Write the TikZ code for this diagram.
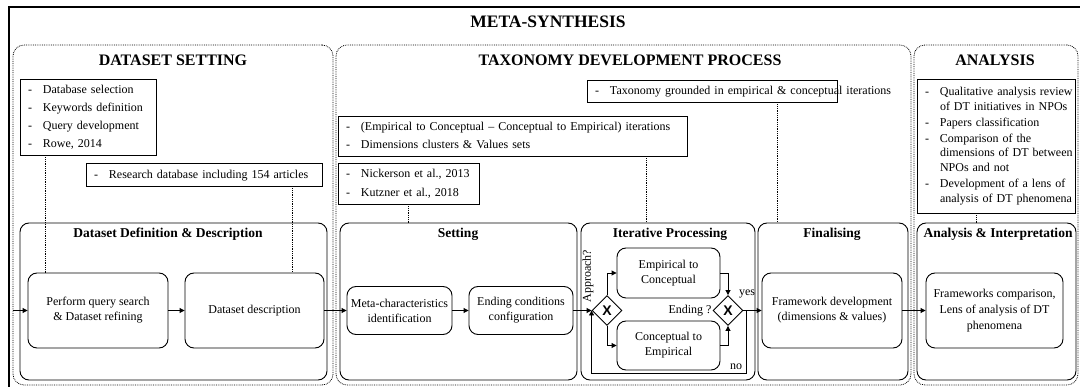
\documentclass[tikz,border=0pt]{standalone}
\usepackage{fontspec}
\setmainfont{Liberation Serif}
\newfontfamily\gatefont{Liberation Sans}
\usetikzlibrary{shapes.geometric,arrows.meta,calc}
\begin{document}
\begin{tikzpicture}[x=1pt,y=-1pt,
  sectionbox/.style={draw, densely dotted, rounded corners=11pt, line width=0.8pt, inner sep=0pt},
  groupbox/.style={draw, rounded corners=9pt, line width=0.9pt, inner sep=0pt, minimum height=157},
  procbox/.style={draw, rounded corners=9pt, line width=0.9pt, inner sep=0pt, align=center, font=\fontsize{12}{15}\selectfont},
  notebox/.style={draw, line width=0.9pt, inner xsep=8pt, inner ysep=0pt, align=left},
  sectitle/.style={font=\fontsize{16}{18}\selectfont\bfseries},
  grouptitle/.style={font=\fontsize{13.5}{15}\selectfont\bfseries},
  gate/.style={draw, diamond, aspect=1, minimum width=30, minimum height=30, inner sep=0pt, line width=0.9pt, font=\gatefont\fontsize{14}{14}\selectfont\bfseries},
  lbl/.style={font=\fontsize{12}{13}\selectfont, inner sep=0pt},
  flow/.style={-{Triangle[length=5pt,width=5pt]}, line width=0.9pt},
  dotline/.style={densely dotted, line width=0.8pt}
]
\useasboundingbox (0,0) rectangle (1080,387);
% outer frame
\draw[line width=1.2pt] (9,400) -- (9,7) -- (1100,7);
\node[font=\fontsize{17.5}{19}\selectfont\bfseries] (main) at (548,22) {META-SYNTHESIS};

% sections
\node[sectionbox, minimum width=320, minimum height=340] (secDS) at (173,215) {};
\node[sectionbox, minimum width=575, minimum height=340] (secTX) at (623.5,215) {};
\node[sectionbox, minimum width=164, minimum height=340] (secAN) at (996,215) {};
\node[sectitle] (tDS) at (173,60) {DATASET SETTING};
\node[sectitle] (tTX) at (630,60) {TAXONOMY DEVELOPMENT PROCESS};
\node[sectitle] (tAN) at (995,60) {ANALYSIS};

% note boxes
\node[notebox, minimum width=136, minimum height=76, text width=120, font=\fontsize{12}{18}\selectfont] (DS1) at (88,117)
 {\begin{tabular}{@{}p{15pt}@{}l@{}}-&Database selection\\-&Keywords definition\\-&Query development\\-&Rowe, 2014\end{tabular}};
\node[notebox, minimum width=236, minimum height=23, text width=220, font=\fontsize{12}{18}\selectfont] (DS2) at (204,174.5)
 {\begin{tabular}{@{}p{15pt}@{}l@{}}-&Research database including 154 articles\end{tabular}};
\node[notebox, minimum width=250, minimum height=22, text width=234, font=\fontsize{12}{18}\selectfont] (T1) at (712,91)
 {\begin{tabular}{@{}p{15pt}@{}l@{}}-&Taxonomy grounded in empirical \& conceptual iterations\end{tabular}};
\node[notebox, minimum width=349, minimum height=40, text width=333, font=\fontsize{12}{18}\selectfont] (T2) at (512.5,136)
 {\begin{tabular}{@{}p{15pt}@{}l@{}}-&(Empirical to Conceptual -- Conceptual to Empirical) iterations\\-&Dimensions clusters \& Values sets\end{tabular}};
\node[notebox, minimum width=141, minimum height=41, text width=125, font=\fontsize{12}{19}\selectfont] (T3) at (408.5,183.5)
 {\begin{tabular}{@{}p{15pt}@{}l@{}}-&Nickerson et al., 2013\\-&Kutzner et al., 2018\end{tabular}};
\node[notebox, minimum width=158, minimum height=134, text width=142, font=\fontsize{12}{14.6}\selectfont] (A1) at (996,146)
 {\begin{tabular}{@{}p{15pt}@{}l@{}}-&Qualitative analysis review\\&of DT initiatives in NPOs\\[1.5pt]-&Papers classification\\[1.5pt]-&Comparison of the\\&dimensions of DT between\\&NPOs and not\\[1.5pt]-&Development of a lens of\\&analysis of DT phenomena\end{tabular}};

% group boxes
\node[groupbox, minimum width=307] (DDD) at (173.5,301.5) {};
\node[groupbox, minimum width=237] (SET) at (458.5,301.5) {};
\node[groupbox, minimum width=174] (ITR) at (668,301.5) {};
\node[groupbox, minimum width=150] (FIN) at (833,301.5) {};
\node[groupbox, minimum width=159] (ANI) at (996.5,301.5) {};
\node[grouptitle] (tDDD) at (168,234) {Dataset Definition \& Description};
\node[grouptitle] (tSET) at (458,234) {Setting};
\node[grouptitle] (tITR) at (670,234) {Iterative Processing};
\node[grouptitle] (tFIN) at (832,234) {Finalising};
\node[grouptitle] (tANI) at (998,234) {Analysis \& Interpretation};

% process boxes
\node[procbox, minimum width=140, minimum height=75] (PQ) at (98,310.5) {Perform query search\\\& Dataset refining};
\node[procbox, minimum width=139, minimum height=75] (DD) at (254.5,310.5) {Dataset description};
\node[procbox, minimum width=105, minimum height=48] (META) at (399.5,310.5) {Meta-characteristics\\identification};
\node[procbox, minimum width=104, minimum height=48] (END) at (521,310.5) {Ending conditions\\configuration};
\node[procbox, minimum width=103, minimum height=50] (EC) at (668.5,273) {Empirical to\\Conceptual};
\node[procbox, minimum width=103, minimum height=49] (CE) at (668.5,345.5) {Conceptual to\\Empirical};
\node[procbox, minimum width=140, minimum height=75] (FD) at (832,310.5) {Framework development\\(dimensions \& values)};
\node[procbox, minimum width=137, minimum height=75, font=\fontsize{12}{16}\selectfont] (FC) at (994.5,310.5) {Frameworks comparison,\\Lens of analysis of DT\\phenomena};

% gateways
\node[gate] (X1) at (607,310.5) {X};
\node[gate] (X2) at (728,310.5) {X};

% labels
\node[lbl, rotate=90] (lapp) at (588,276) {Approach?};
\node[lbl] (lend) at (690,310.5) {Ending ?};
\node[lbl] (lyes) at (747,294) {yes};
\node[lbl] (lno) at (736,367) {no};

% flow
\coordinate (start) at (13,310.5);
\draw[flow] (start) -- (PQ.west);
\draw[flow] (PQ) -- (DD);
\draw[flow] (DD) -- (META);
\draw[flow] (META) -- (END);
\draw[flow] (END) -- (X1.west);
\draw[flow] (X1.north) |- (EC.west);
\draw[flow] (X1.south) |- (CE.west);
\draw[flow] (EC.east) -| (X2.north);
\draw[flow] (CE.east) -| (X2.south);
\coordinate (J) at (746,310.5);
\coordinate (L) at (746,373);
\draw[line width=0.9pt] (X2.east) -- (J);
\draw[flow] (J) -- (FD.west);
\draw[flow] (J) -- (L) -| (X1.west);
\draw[flow] (FD) -- (FC);

% dotted connectors
\draw[dotline] ([xshift=26]DS1.south west) -- ([xshift=18]PQ.north west);
\draw[dotline] ([xshift=207]DS2.south west) -- ([xshift=108]DD.north west);
\draw[dotline] ([xshift=71]T3.south west) -- ([xshift=69]SET.north west);
\draw[dotline] ([xshift=309]T2.south west) -- ([xshift=66]ITR.north west);
\draw[dotline] ([xshift=191]T1.south west) -- ([xshift=20]FIN.north west);
\draw[dotline] ([xshift=60]A1.south west) -- ([xshift=60]ANI.north west);
\end{tikzpicture}
\end{document}
